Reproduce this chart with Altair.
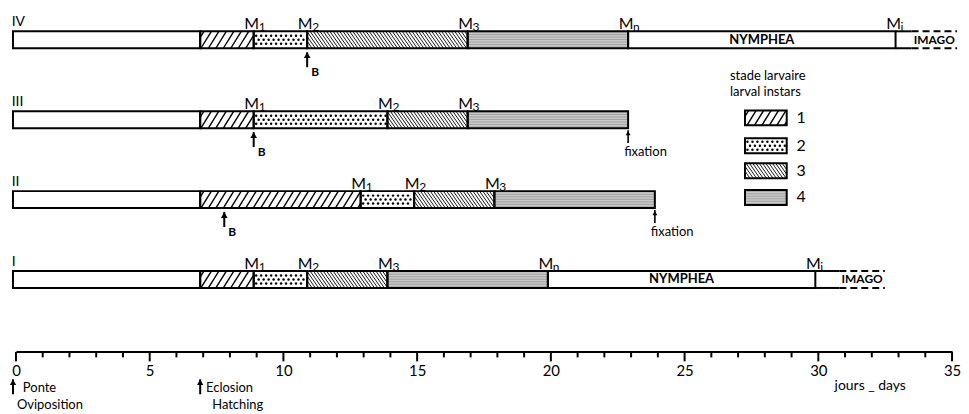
import altair as alt
import pandas as pd

# ---------------- data ----------------
row_names = ["IV", "III", "II", "I"]
row_levels = [4, 3, 2, 1]

seg_bounds = [
    [0, 7, 9, 11, 17, 23, 33],   # IV
    [0, 7, 9, 14, 17, 23],       # III
    [0, 7, 13, 15, 18, 24],      # II
    [0, 7, 9, 11, 14, 20, 30],   # I
]
seg_kinds = [
    ["oeuf", "1", "2", "3", "4", "NYMPHEA"],
    ["oeuf", "1", "2", "3", "4"],
    ["oeuf", "1", "2", "3", "4"],
    ["oeuf", "1", "2", "3", "4", "NYMPHEA"],
]
molt_days = [
    [9, 11, 17, 23, 33],
    [9, 14, 17],
    [13, 15, 18],
    [9, 11, 14, 20, 30],
]
molt_subs = [
    ["1", "2", "3", "n", "i"],
    ["1", "2", "3"],
    ["1", "2", "3"],
    ["1", "2", "3", "n", "i"],
]
b_rows = ["IV", "III", "II"]
b_days = [11, 9, 7.9]
fix_rows = ["III", "II"]
fix_days = [23, 24]
imago_rows = ["IV", "I"]
imago_start = [33, 30]
imago_solid_end = [33.6, 30.9]
imago_end = [35.3, 32.6]
event_days = [0, 7]
event_fr = ["Ponte", "Eclosion"]
event_en = ["Oviposition", "Hatching"]
legend_stages = ["1", "2", "3", "4"]
legend_y = [3.023, 2.674, 2.362, 2.026]
minor_ticks = list(range(0, 36))
major_ticks = list(range(0, 36, 5))

# ---------------- layout ----------------
W, H = 940, 337
X_MIN, X_MAX = 0, 35
Y_MIN, Y_MAX = 0.1, 4.3
PXD = W / (X_MAX - X_MIN)
PXR = H / (Y_MAX - Y_MIN)
HALF = 8.5 / PXR
LEG_HALF = 7.5 / PXR
LEG_X0, LEG_X1 = 27.37, 28.93
AXIS_SHIFT = 3.0          # axis drawn 3px right of the bars, as in the original
FONT = "Lato"
GREY4 = "#c9c9c9"
lev_of = dict(zip(row_names, row_levels))

# segments
seg_rows = []
for name, lev, bounds, kinds in zip(row_names, row_levels, seg_bounds, seg_kinds):
    for a, b, k in zip(bounds[:-1], bounds[1:], kinds):
        seg_rows.append(dict(x=a, x2=b, y=lev - HALF, y2=lev + HALF, kind=k))
for st, yc in zip(legend_stages, legend_y):
    seg_rows.append(dict(x=LEG_X0, x2=LEG_X1, y=yc - LEG_HALF, y2=yc + LEG_HALF, kind=st))
segs = pd.DataFrame(seg_rows)
segs["fill"] = [GREY4 if k == "4" else "white" for k in segs["kind"]]


def hatch(r, spacing, k):
    x0, x1, y0, y1 = r.x, r.x2, r.y, r.y2
    w = (x1 - x0) * PXD
    h = (y1 - y0) * PXR
    slant = k * h
    s = (-slant if slant > 0 else 0) + spacing * 0.5
    stop = w + (-slant if slant < 0 else 0)
    out = []
    while s < stop:
        ta = (0 - s) / slant
        tb = (w - s) / slant
        lo = max(0.0, min(ta, tb))
        hi = min(1.0, max(ta, tb))
        if hi - lo > 1e-6:
            out.append(dict(x=x0 + (s + slant * lo) / PXD, x2=x0 + (s + slant * hi) / PXD,
                            y=y0 + h * lo / PXR, y2=y0 + h * hi / PXR))
        s += spacing
    return out


def dots(r, spacing):
    x0, x1, y0, y1 = r.x, r.x2, r.y, r.y2
    w = (x1 - x0) * PXD
    yc = (y0 + y1) / 2
    out = []
    for off, shift in [(-4.0, 0.0), (0.0, spacing / 2), (4.0, 0.0)]:
        p = spacing / 2 + shift
        while p < w - 1.5:
            out.append(dict(x=x0 + p / PXD, y=yc + off / PXR))
            p += spacing
    return out


def grid(r, spacing):
    x0, x1, y0, y1 = r.x, r.x2, r.y, r.y2
    h = (y1 - y0) * PXR
    out = []
    p = spacing / 2
    while p < h:
        out.append(dict(x=x0, x2=x1, y=y0 + p / PXR))
        p += spacing
    return out


h1, h3, d2, g4 = [], [], [], []
for r in segs.itertuples():
    if r.kind == "1":
        h1 += hatch(r, 7.5, 0.62)
    elif r.kind == "3":
        h3 += hatch(r, 3.3, -0.7)
    elif r.kind == "2":
        d2 += dots(r, 5.0)
    elif r.kind == "4":
        g4 += grid(r, 2.5)
h1 = pd.DataFrame(h1)
h3 = pd.DataFrame(h3)
d2 = pd.DataFrame(d2)
g4 = pd.DataFrame(g4)

# molt labels
molt = pd.DataFrame([
    dict(x=d, y=lev + HALF + 2.3 / PXR, sub=s)
    for lev, ds, ss in zip(row_levels, molt_days, molt_subs) for d, s in zip(ds, ss)
])

row_lab = pd.DataFrame(dict(x=[-0.05] * 4, y=[l + HALF + 5 / PXR for l in row_levels], t=row_names))

# B arrows
b_df = pd.DataFrame(dict(
    x=b_days,
    tip=[lev_of[r] - HALF - 4 / PXR for r in b_rows],
    y=[lev_of[r] - HALF - 19 / PXR for r in b_rows],
    head=[lev_of[r] - HALF - 7 / PXR for r in b_rows],
    ty=[lev_of[r] - HALF - 24 / PXR for r in b_rows],
))
# fixation arrows
f_df = pd.DataFrame(dict(
    x=fix_days,
    tip=[lev_of[r] - HALF - 2 / PXR for r in fix_rows],
    y=[lev_of[r] - HALF - 15 / PXR for r in fix_rows],
    head=[lev_of[r] - HALF - 5 / PXR for r in fix_rows],
    ty=[lev_of[r] - HALF - 24 / PXR for r in fix_rows],
))

# imago
im_solid, im_dash, im_text = [], [], []
for r, a, b, c in zip(imago_rows, imago_start, imago_solid_end, imago_end):
    lev = lev_of[r]
    for yy in (lev - HALF, lev + HALF):
        im_solid.append(dict(x=a, x2=b, y=yy))
        im_dash.append(dict(x=b, x2=c, y=yy))
    im_text.append(dict(x=(b + c) / 2, y=lev, t="IMAGO"))
im_solid = pd.DataFrame(im_solid)
im_dash = pd.DataFrame(im_dash)
im_text = pd.DataFrame(im_text)

nym = pd.DataFrame([
    dict(x=(a + b) / 2, y=lev, t="NYMPHEA")
    for lev, bounds, kinds in zip(row_levels, seg_bounds, seg_kinds)
    for a, b, k in zip(bounds[:-1], bounds[1:], kinds) if k == "NYMPHEA"
])

# axis ticks (drawn as rules, on the axis' shifted position)
axis_y = Y_MIN - 0.5 / PXR
ticks = pd.DataFrame(
    [dict(x=v + AXIS_SHIFT / PXD, y=axis_y, y2=axis_y - 5.5 / PXR) for v in minor_ticks if v not in major_ticks]
    + [dict(x=v + AXIS_SHIFT / PXD, y=axis_y, y2=axis_y - 9.5 / PXR) for v in major_ticks]
)

# events below axis
ev = pd.DataFrame(dict(x=event_days, tip=[-0.249] * 2, y=[-0.436] * 2, head=[-0.249 - 3 / PXR] * 2))
ev_fr = pd.DataFrame(dict(x=[0.37, 7.22], y=[-0.361] * 2, t=event_fr))
ev_en = pd.DataFrame(dict(x=[0.15, 7.45], y=[-0.573] * 2, t=event_en))
days_lab = pd.DataFrame(dict(x=[30.72], y=[-0.336], t=["jours _ days"]))

leg_title = pd.DataFrame(dict(x=[26.81, 26.81], y=[3.55, 3.345], t=["stade larvaire", "larval instars"]))
leg_num = pd.DataFrame(dict(x=[29.3] * 4, y=legend_y, t=legend_stages))

# ---------------- encodings ----------------
xscale = alt.Scale(domain=[X_MIN, X_MAX], nice=False, zero=False)
yscale = alt.Scale(domain=[Y_MIN, Y_MAX], nice=False, zero=False)
xaxis = alt.Axis(
    values=major_ticks,
    ticks=False,
    domainColor="black", domainWidth=2,
    labelFontSize=15, labelFont=FONT, labelColor="black", labelPadding=12,
    labelFlush=False, labelOverlap=False, grid=False, title=None,
    translate=AXIS_SHIFT + 0.5, offset=-AXIS_SHIFT,
)
X = alt.X("x:Q", scale=xscale, axis=xaxis)
Y = alt.Y("y:Q", scale=yscale, axis=None)


def base(df):
    return alt.Chart(df)


fills = base(segs).mark_rect().encode(X, alt.X2("x2"), Y, alt.Y2("y2"), fill=alt.Fill("fill:N", scale=None))
gl4 = base(g4).mark_rule(color="#7a7a7a", strokeWidth=0.5).encode(X, alt.X2("x2"), Y)
hl1 = base(h1).mark_rule(color="black", strokeWidth=1.4).encode(X, alt.X2("x2"), Y, alt.Y2("y2"))
hl3 = base(h3).mark_rule(color="black", strokeWidth=0.9).encode(X, alt.X2("x2"), Y, alt.Y2("y2"))
dt2 = base(d2).mark_circle(color="black", size=6, opacity=1).encode(X, Y)
outl = base(segs).mark_rect(fill="white", fillOpacity=0, stroke="black", strokeWidth=2).encode(
    X, alt.X2("x2"), Y, alt.Y2("y2"))
tk = base(ticks).mark_rule(color="black", strokeWidth=2).encode(X, Y, alt.Y2("y2"))

ims = base(im_solid).mark_rule(color="black", strokeWidth=2).encode(X, alt.X2("x2"), Y)
imd = base(im_dash).mark_rule(color="black", strokeWidth=2, strokeDash=[7, 4]).encode(X, alt.X2("x2"), Y)
imt = base(im_text).mark_text(font=FONT, fontSize=12, fontWeight=700, color="black", baseline="middle").encode(
    X, Y, text="t:N")
nyt = base(nym).mark_text(font=FONT, fontSize=13, fontWeight=700, color="black", baseline="middle").encode(
    X, Y, text="t:N")

m_main = base(molt).mark_text(font=FONT, fontSize=16, color="black", align="center", baseline="alphabetic",
                              dx=-2, text="M").encode(X, Y)
m_sub = base(molt).mark_text(font=FONT, fontSize=12, color="black", align="left", baseline="alphabetic",
                             dx=5, dy=2).encode(X, Y, text="sub:N")
rl = base(row_lab).mark_text(font=FONT, fontSize=14, color="black", align="left", baseline="alphabetic").encode(
    X, Y, text="t:N")


def arrows(df, width=2, size=40):
    shaft = base(df).mark_rule(color="black", strokeWidth=width).encode(X, alt.Y("tip:Q", scale=yscale, axis=None),
                                                                         alt.Y2("y"))
    head = base(df).mark_point(shape="triangle-up", filled=True, color="black", size=size, opacity=1).encode(
        X, alt.Y("head:Q", scale=yscale, axis=None))
    return [shaft, head]


bt = base(b_df).mark_text(font=FONT, fontSize=12, fontWeight=700, color="black", align="left", baseline="middle",
                          dx=4, text="B").encode(X, alt.Y("ty:Q", scale=yscale, axis=None))
ft = base(f_df).mark_text(font=FONT, fontSize=13, color="black", align="left", baseline="middle", dx=-4,
                          text="fixation").encode(X, alt.Y("ty:Q", scale=yscale, axis=None))

evf = base(ev_fr).mark_text(font=FONT, fontSize=13, color="black", align="left", baseline="middle").encode(
    X, Y, text="t:N")
eve = base(ev_en).mark_text(font=FONT, fontSize=13, color="black", align="left", baseline="middle").encode(
    X, Y, text="t:N")
dl = base(days_lab).mark_text(font=FONT, fontSize=14, color="black", align="left", baseline="middle").encode(
    X, Y, text="t:N")
lt = base(leg_title).mark_text(font=FONT, fontSize=13, color="black", align="left", baseline="middle").encode(
    X, Y, text="t:N")
ln = base(leg_num).mark_text(font=FONT, fontSize=16, color="black", align="left", baseline="middle").encode(
    X, Y, text="t:N")

layers = [fills, gl4, hl1, hl3, dt2, outl, tk, ims, imd, imt, nyt, m_main, m_sub, rl]
layers += arrows(b_df, 2, 45) + [bt] + arrows(f_df, 1.6, 25) + [ft] + arrows(ev, 2, 40)
layers += [evf, eve, dl, lt, ln]

chart = alt.layer(*layers).properties(
    width=W, height=H,
    padding={"left": 5, "top": 7, "right": 12, "bottom": 60},
    autosize=alt.AutoSizeParams(type="none"),
).configure_view(stroke=None)

chart.save("out.html", embed_options={"renderer": "svg", "actions": False})
